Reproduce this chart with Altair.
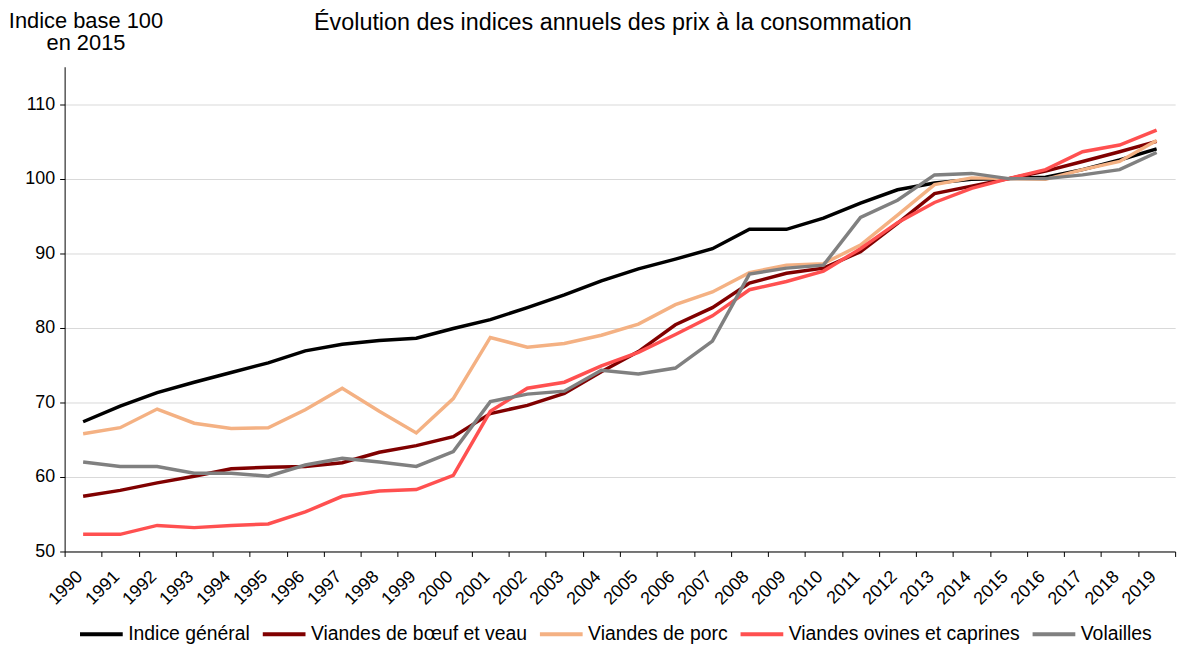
import altair as alt
import pandas as pd

years = [str(y) for y in range(1990, 2020)]
series_names = ["Indice général", "Viandes de bœuf et veau", "Viandes de porc",
                "Viandes ovines et caprines", "Volailles"]
general = [67.4, 69.5, 71.3, 72.7, 74.0, 75.3, 76.9, 77.8, 78.3, 78.6,
           79.9, 81.1, 82.7, 84.4, 86.3, 87.9, 89.2, 90.6, 93.2, 93.2,
           94.7, 96.7, 98.5, 99.4, 99.9, 100.0, 100.2, 101.2, 102.5, 104.0]
boeuf = [57.4, 58.2, 59.2, 60.1, 61.1, 61.3, 61.4, 61.9, 63.3, 64.2,
         65.4, 68.5, 69.6, 71.2, 74.1, 76.8, 80.4, 82.7, 86.0, 87.3,
         88.0, 90.2, 94.0, 98.0, 99.0, 100.0, 101.0, 102.3, 103.6, 105.0]
porc = [65.8, 66.6, 69.1, 67.2, 66.5, 66.6, 69.0, 71.9, 68.8, 65.9,
        70.5, 78.7, 77.4, 77.9, 79.0, 80.5, 83.1, 84.8, 87.4, 88.4,
        88.6, 91.1, 95.1, 99.2, 100.1, 100.0, 99.9, 101.2, 102.3, 105.1]
ovines = [52.3, 52.3, 53.5, 53.2, 53.5, 53.7, 55.3, 57.4, 58.1, 58.3,
          60.2, 68.8, 71.9, 72.7, 74.9, 76.7, 79.1, 81.6, 85.1, 86.2,
          87.6, 90.6, 94.1, 96.8, 98.7, 100.0, 101.2, 103.6, 104.5, 106.5]
volailles = [62.0, 61.4, 61.4, 60.5, 60.5, 60.1, 61.6, 62.5, 62.0, 61.4,
             63.4, 70.1, 71.1, 71.5, 74.3, 73.8, 74.6, 78.2, 87.2, 88.0,
             88.4, 94.8, 97.1, 100.5, 100.7, 100.0, 100.0, 100.5, 101.2, 103.5]
colors = ["#000000", "#800000", "#F4B183", "#FF5050", "#808080"]
y_ticks = [50, 60, 70, 80, 90, 100, 110]
title_text = "Évolution des indices annuels des prix à la consommation"

rows = []
for name, vals in zip(series_names, [general, boeuf, porc, ovines, volailles]):
    for yr, v in zip(years, vals):
        rows.append({"annee": yr, "serie": name, "valeur": v})
df = pd.DataFrame(rows)

FONT = "Liberation Sans"

lines = alt.Chart(df).mark_line(strokeWidth=3.5).encode(
    x=alt.X("annee:O", title=None, sort=years,
            scale=alt.Scale(paddingInner=0, paddingOuter=0),
            axis=alt.Axis(labelAngle=-45, labelFontSize=18, labelColor="#000",
                          tickBand="extent", tickColor="#000", domainColor="#000",
                          tickSize=5, labelFont=FONT, labelPadding=11,
                          labelOffset=-10)),
    y=alt.Y("valeur:Q", scale=alt.Scale(domain=[50, 115], nice=False, zero=False),
            axis=alt.Axis(values=y_ticks, title=["Indice base 100", "en 2015"],
                          titleAngle=0, titleAlign="center", titleX=21, titleY=-40,
                          titleBaseline="alphabetic", titleFontSize=22,
                          titleFontWeight="normal", titleFont=FONT, titleColor="#000",
                          titleLineHeight=23,
                          labelFontSize=18, labelColor="#000", labelFont=FONT,
                          tickColor="#000", domainColor="#000", tickSize=5,
                          gridColor="#d9d9d9", labelPadding=5)),
    color=alt.Color("serie:N", sort=series_names,
                    scale=alt.Scale(domain=series_names, range=colors),
                    legend=alt.Legend(title=None, orient="none", direction="horizontal",
                                      legendX=13, legendY=547,
                                      symbolType="stroke", symbolSize=1850,
                                      symbolStrokeWidth=4, labelFontSize=19.5,
                                      labelFont=FONT, labelColor="#000",
                                      columnPadding=4, labelOffset=3,
                                      labelLimit=400)),
)

title = alt.Chart(pd.DataFrame({"t": [title_text]})).mark_text(
    font=FONT, fontSize=23.5, color="#000", align="center", baseline="alphabetic"
).encode(text="t:N", x=alt.value(552), y=alt.value(-37))

chart = alt.layer(lines, title).properties(
    width=1118, height=488,
    autosize="none",
    padding={"left": 57, "top": 57, "right": 20, "bottom": 95},
).configure_view(stroke=None).configure_axisX(grid=False)

chart.save("out.html", embed_options={"renderer": "svg", "actions": False})
